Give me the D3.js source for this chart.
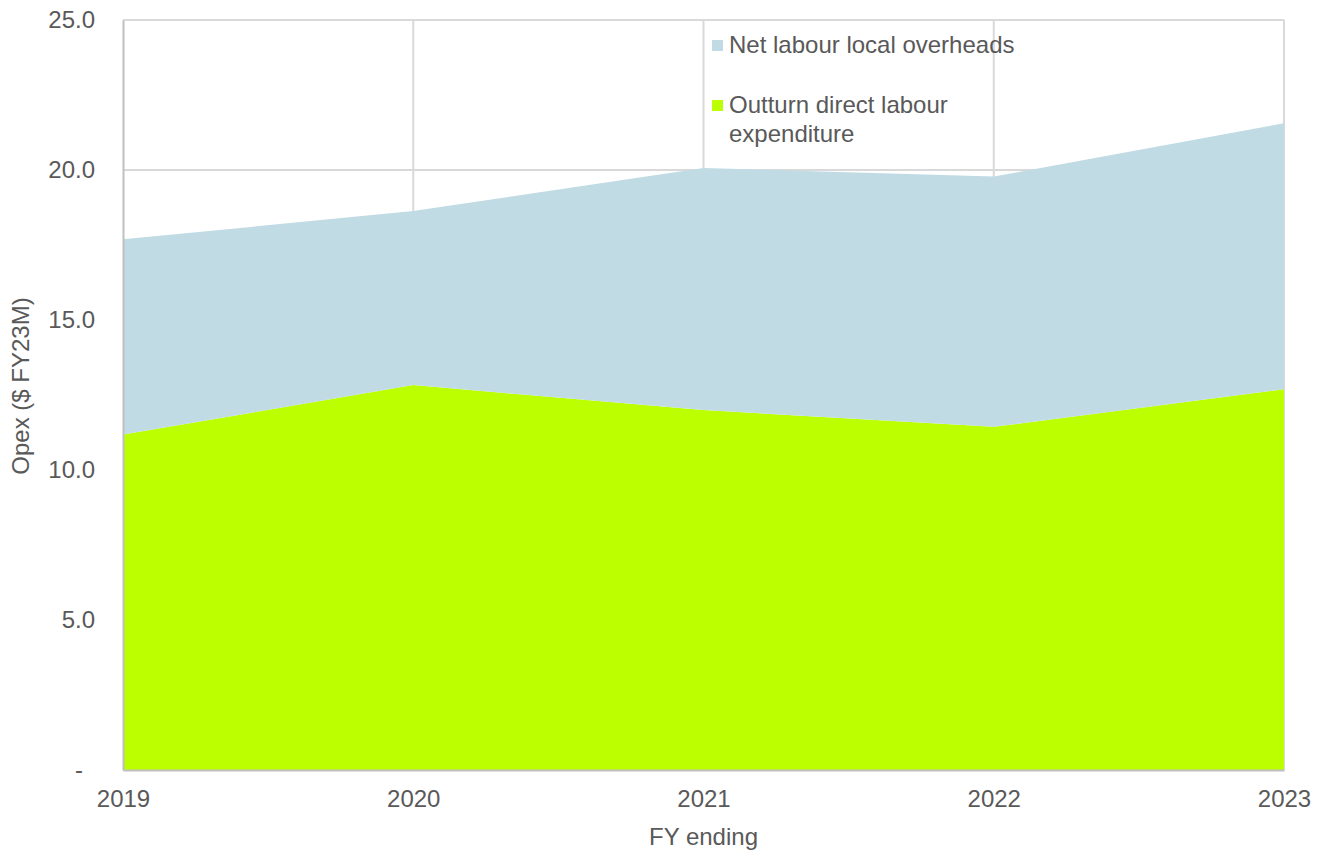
<!DOCTYPE html>
<html>
<head>
<meta charset="utf-8">
<script src="https://cdn.jsdelivr.net/npm/d3@7"></script>
<style>
  body { margin: 0; background: #fff; }
  text { font-family: "Liberation Sans", Arial, sans-serif; fill: #595959; }
</style>
</head>
<body>
<div id="chart"></div>
<script>
// Chart data
const years = ["2019", "2020", "2021", "2022", "2023"];
const directLabour = [11.18, 12.83, 12.0, 11.44, 12.69];
const localOverheads = [6.51, 5.80, 8.07, 8.34, 8.87];
const yTicks = [0, 5, 10, 15, 20, 25];

const width = 1326;
const height = 852;
const margin = { top: 20, right: 42, bottom: 82, left: 123 };

const svg = d3.select("#chart")
  .append("svg")
  .attr("width", width)
  .attr("height", height);

const x = d3.scalePoint()
  .domain(years)
  .range([margin.left, width - margin.right]);

const y = d3.scaleLinear()
  .domain([0, 25])
  .range([height - margin.bottom, margin.top]);

// Grid lines (behind areas)
svg.append("g")
  .selectAll("line.h")
  .data(yTicks.filter((d) => d > 0))
  .enter()
  .append("line")
  .attr("x1", margin.left)
  .attr("x2", width - margin.right)
  .attr("y1", (d) => y(d))
  .attr("y2", (d) => y(d))
  .attr("stroke", "#d9d9d9")
  .attr("stroke-width", 2);

svg.append("g")
  .selectAll("line.v")
  .data(years.slice(1))
  .enter()
  .append("line")
  .attr("x1", (d) => x(d))
  .attr("x2", (d) => x(d))
  .attr("y1", y(25))
  .attr("y2", y(0))
  .attr("stroke", "#d9d9d9")
  .attr("stroke-width", 2);

// Stack the two series
const rows = years.map((yr, i) => ({ year: yr, direct: directLabour[i], overheads: localOverheads[i] }));
const stack = d3.stack().keys(["direct", "overheads"]);
const series = stack(rows);

const colors = { direct: "#bbff00", overheads: "#c0dbe4" };

const area = d3.area()
  .x((d) => x(d.data.year))
  .y0((d) => y(d[0]))
  .y1((d) => y(d[1]));

svg.append("g")
  .selectAll("path")
  .data(series)
  .enter()
  .append("path")
  .attr("d", area)
  .attr("fill", (d) => colors[d.key]);

// Axes
const yAxis = svg.append("g")
  .attr("transform", `translate(${margin.left},0)`)
  .call(d3.axisLeft(y).tickValues(yTicks).tickSize(0).tickPadding(28)
    .tickFormat((d) => d === 0 ? "-" : d3.format(".1f")(d)));
yAxis.select(".domain").attr("stroke", "#bfbfbf").attr("stroke-width", 2);
yAxis.selectAll("text").style("font-size", "24px").attr("fill", "#595959");
yAxis.selectAll(".tick").filter((d) => d === 0).select("text").attr("dx", -12);

const xAxis = svg.append("g")
  .attr("transform", `translate(0,${y(0)})`)
  .call(d3.axisBottom(x).tickSize(0).tickPadding(20));
xAxis.select(".domain").attr("stroke", "#bfbfbf").attr("stroke-width", 2);
xAxis.selectAll("text").style("font-size", "24px").attr("fill", "#595959");

// Axis titles
svg.append("text")
  .attr("x", (margin.left + width - margin.right) / 2)
  .attr("y", 845)
  .attr("text-anchor", "middle")
  .style("font-size", "24px")
  .text("FY ending");

svg.append("text")
  .attr("transform", "translate(29,386) rotate(-90)")
  .attr("text-anchor", "middle")
  .style("font-size", "24px")
  .text("Opex ($ FY23M)");

// Legend
const legend = svg.append("g").attr("transform", "translate(712,0)");
const legendItems = [
  { lines: ["Net labour local overheads"], color: colors.overheads, y: 45 },
  { lines: ["Outturn direct labour", "expenditure"], color: colors.direct, y: 105 }
];
legendItems.forEach((item) => {
  legend.append("rect")
    .attr("x", 0)
    .attr("y", item.y - 5)
    .attr("width", 11)
    .attr("height", 11)
    .attr("fill", item.color);
  item.lines.forEach((ln, j) => {
    legend.append("text")
      .attr("x", 17)
      .attr("y", item.y + j * 29)
      .attr("dy", "0.35em")
      .style("font-size", "24px")
      .text(ln);
  });
});
</script>
</body>
</html>
